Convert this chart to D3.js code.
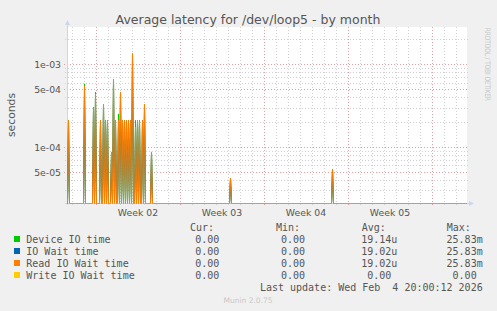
<!DOCTYPE html>
<html>
<head>
<meta charset="utf-8">
<script src="https://cdn.jsdelivr.net/npm/d3@7/dist/d3.min.js"></script>
<style>
    body { margin: 0; background: #f0f0f0; }
    text { font-family: "DejaVu Sans", sans-serif; fill: #555; }
    .mono { font-family: "DejaVu Sans Mono", monospace; font-size: 10px; white-space: pre; }
</style>
</head>
<body>
<div id="chart"></div>
<script>

// ---- data (2 hour slots, month view) ----
const graphStart = new Date(Date.UTC(2026, 0, 2, 14));
const slotHours = 2;
const slotCount = 400;

// slots where something happened, everything else is 0
const spikeSlots = [1, 17, 26, 28, 33, 36, 38, 40, 44, 46, 48, 51, 53, 55, 57, 59, 61, 63, 65, 68, 70, 72, 75, 77, 84, 163, 265];
const deviceIO  = [2.1e-4, 5.8e-4, 3.0e-4, 4.6e-4, 2.1e-4, 3.3e-4, 2.1e-4, 2.1e-4, 8.7e-5, 6.6e-4, 2.1e-4, 2.5e-4, 4.6e-4, 2.1e-4, 2.1e-4, 2.1e-4, 2.1e-4, 2.1e-4, 1.37e-3, 2.1e-4, 2.1e-4, 2.1e-4, 2.1e-4, 3.3e-4, 8.7e-5, 4.2e-5, 5.4e-5];
const ioWait    = [2.1e-4, 5.5e-4, 3.0e-4, 4.4e-4, 2.1e-4, 3.3e-4, 2.1e-4, 2.1e-4, 8.7e-5, 6.6e-4, 2.1e-4, 2.1e-4, 4.6e-4, 2.1e-4, 2.1e-4, 2.1e-4, 2.1e-4, 2.1e-4, 1.37e-3, 1.75e-4, 2.1e-4, 2.1e-4, 2.1e-4, 3.3e-4, 8.7e-5, 4.2e-5, 5.4e-5];
const readWait  = [2.1e-4, 5.5e-4, 3.0e-4, 4.4e-4, 2.1e-4, 3.3e-4, 2.1e-4, 2.1e-4, 8.7e-5, 6.6e-4, 2.1e-4, 2.1e-4, 4.6e-4, 2.1e-4, 2.1e-4, 2.1e-4, 2.1e-4, 2.1e-4, 1.37e-3, 1.75e-4, 2.1e-4, 2.1e-4, 2.1e-4, 3.3e-4, 8.7e-5, 4.2e-5, 5.4e-5];
const writeWait = [0, 0, 0, 0, 0, 0, 0, 0, 0, 0, 0, 0, 0, 0, 0, 0, 0, 0, 0, 0, 0, 0, 0, 0, 0, 0, 0];

const yTicks = [1e-3, 5e-4, 1e-4, 5e-5];
const yTickLabels = ["1e-03", "5e-04", "1e-04", "5e-05"];
const weekStarts = ["2026-01-05", "2026-01-12", "2026-01-19", "2026-01-26", "2026-02-02"];
const weekLabels = ["Week 02", "Week 03", "Week 04", "Week 05"];

const seriesNames  = ["Device IO time", "IO Wait time", "Read IO Wait time", "Write IO Wait time"];
const seriesColors = ["#00cc00", "#0066b3", "#ff8000", "#ffcc00"];
const curValues = ["0.00", "0.00", "0.00", "0.00"];
const minValues = ["0.00", "0.00", "0.00", "0.00"];
const avgValues = ["19.14u", "19.02u", "19.02u", "0.00"];
const maxValues = ["25.83m", "25.83m", "25.83m", "0.00"];

// ---- setup ----
const W = 497, H = 311;
const plot = {left: 67, right: 467, top: 27, bottom: 203};

const svg = d3.select("#chart").append("svg")
    .attr("width", W)
    .attr("height", H);

svg.append("rect").attr("width", W).attr("height", H).attr("fill", "#f0f0f0");
svg.append("rect")
    .attr("x", plot.left).attr("y", plot.top)
    .attr("width", plot.right - plot.left).attr("height", plot.bottom - plot.top)
    .attr("fill", "#ffffff");

const graphEnd = new Date(graphStart.getTime() + slotCount * slotHours * 3600e3);
const x = d3.scaleUtc().domain([graphStart, graphEnd]).range([plot.left, plot.right]);
const y = d3.scaleLog().domain([2.1e-5, 2.83e-3]).range([plot.bottom, plot.top]).clamp(true);

const slotTime = i => new Date(graphStart.getTime() + i * slotHours * 3600e3);

// ---- grid ----
const grid = svg.append("g");
const dayLines = d3.utcDay.range(graphStart, graphEnd);
const weekDates = weekStarts.map(d => new Date(d + "T00:00:00Z"));

grid.selectAll(".vminor")
    .data(dayLines.filter(d => d.getUTCDay() !== 1))
    .join("line")
    .attr("x1", d => Math.round(x(d)) + 0.5).attr("x2", d => Math.round(x(d)) + 0.5)
    .attr("y1", plot.top).attr("y2", plot.bottom + 2)
    .attr("stroke", "#d0d0d0").attr("stroke-dasharray", "1,2");

grid.selectAll(".vmajor")
    .data(weekDates)
    .join("line")
    .attr("x1", d => Math.round(x(d)) + 0.5).attr("x2", d => Math.round(x(d)) + 0.5)
    .attr("y1", plot.top).attr("y2", plot.bottom + 2)
    .attr("stroke", "#e2a0a0").attr("stroke-dasharray", "1,2");

// minor log gridlines: 2..9 of each decade, skipping the labelled ones
const minorVals = [];
[-5, -4, -3].forEach(p => {
    for (let m = 1; m <= 9; m++) {
        const v = m * Math.pow(10, p);
        if (v > y.domain()[0] && v < y.domain()[1] && !yTicks.some(t => Math.abs(t - v) / v < 1e-6)) minorVals.push(v);
    }
});

grid.selectAll(".hminor")
    .data(minorVals)
    .join("line")
    .attr("x1", plot.left - 2).attr("x2", plot.right + 1)
    .attr("y1", d => Math.round(y(d)) + 0.5).attr("y2", d => Math.round(y(d)) + 0.5)
    .attr("stroke", "#d0d0d0").attr("stroke-dasharray", "1,2");

grid.selectAll(".hmajor")
    .data(yTicks)
    .join("line")
    .attr("x1", plot.left - 3).attr("x2", plot.right + 1)
    .attr("y1", d => Math.round(y(d)) + 0.5).attr("y2", d => Math.round(y(d)) + 0.5)
    .attr("stroke", "#e2a0a0").attr("stroke-dasharray", "1,2");

// ---- axis labels ----
svg.selectAll(".ylab")
    .data(yTicks)
    .join("text")
    .attr("x", 61)
    .attr("y", d => Math.round(y(d)) + 3.5)
    .attr("text-anchor", "end")
    .attr("font-size", "9.3px")
    .text((d, i) => yTickLabels[i]);

svg.selectAll(".xlab")
    .data(weekLabels)
    .join("text")
    .attr("x", (d, i) => x(new Date(weekDates[i].getTime() + 3.5 * 86400e3)))
    .attr("y", 215.5)
    .attr("text-anchor", "middle")
    .attr("font-size", "9.3px")
    .text(d => d);

// ---- series ----
function fullSeries(vals) {
    const lookup = new Map(spikeSlots.map((s, i) => [s, vals[i]]));
    return d3.range(slotCount).map(i => ({t: slotTime(i), v: lookup.get(i) || 0}));
}

const line = d3.line()
    .x(d => Math.round(x(d.t)) + 0.5)
    .y(d => d.v > 0 ? y(d.v) : plot.bottom + 0.5);

// axes lines
svg.append("line")
    .attr("x1", plot.left + 0.5).attr("x2", plot.left + 0.5)
    .attr("y1", plot.top - 3).attr("y2", plot.bottom + 2)
    .attr("stroke", "#ccd4f0");
svg.append("path")
    .attr("d", `M${plot.left - 2},${plot.top - 2} L${plot.left + 0.5},${plot.top - 7} L${plot.left + 3},${plot.top - 2} Z`)
    .attr("fill", "#ccd4f0");
svg.append("line")
    .attr("x1", plot.left - 2).attr("x2", plot.right + 3)
    .attr("y1", plot.bottom + 0.5).attr("y2", plot.bottom + 0.5)
    .attr("stroke", "#ccd4f0");
svg.append("path")
    .attr("d", `M${plot.right + 2},${plot.bottom - 2} L${plot.right + 7},${plot.bottom + 0.5} L${plot.right + 2},${plot.bottom + 3} Z`)
    .attr("fill", "#ccd4f0");

[deviceIO, ioWait, readWait, writeWait].forEach((vals, k) => {
    svg.append("path")
        .datum(fullSeries(vals))
        .attr("fill", "none")
        .attr("stroke", seriesColors[k])
        .attr("stroke-width", 1)
        .attr("stroke-opacity", k === 3 ? 0.5 : 1)
        .attr("d", line);
});

// ---- titles ----
svg.append("text")
    .attr("x", 248).attr("y", 23.5)
    .attr("text-anchor", "middle")
    .attr("font-size", "12.5px")
    .text("Average latency for /dev/loop5 - by month");

svg.append("text")
    .attr("transform", "translate(15,115) rotate(-90)")
    .attr("text-anchor", "middle")
    .attr("font-size", "10.8px")
    .text("seconds");

svg.append("text")
    .attr("transform", "translate(485,28) rotate(90)")
    .attr("font-size", "7.5px")
    .attr("textLength", 73)
    .attr("lengthAdjust", "spacingAndGlyphs")
    .style("fill", "#c8c8c8")
    .text("RRDTOOL / TOBI OETIKER");

// ---- legend ----
const rowY = [243, 255, 267, 279];
const charW = 6.02;

svg.selectAll(".hdr")
    .data(["Cur:", "Min:", "Avg:", "Max:"])
    .join("text")
    .attr("class", "mono")
    .attr("x", (d, i) => [190, 276, 361.7, 446.7][i])
    .attr("y", 230.5)
    .text(d => d);

seriesNames.forEach((name, i) => {
    svg.append("rect")
        .attr("x", 14).attr("y", rowY[i] - 7)
        .attr("width", 6).attr("height", 6)
        .attr("fill", seriesColors[i]);
    svg.append("text")
        .attr("class", "mono")
        .attr("x", 26.3).attr("y", rowY[i])
        .text(name);
    const cols = [curValues[i], minValues[i], avgValues[i], maxValues[i]];
    const ends = [225.3, 311, 397.3, 482.7];
    cols.forEach((v, j) => {
        const unit = /[a-zA-Z]$/.test(v);
        svg.append("text")
            .attr("class", "mono")
            .attr("x", ends[j] - (unit ? 0 : charW))
            .attr("y", rowY[i])
            .attr("text-anchor", "end")
            .text(v);
    });
});

svg.append("text")
    .attr("class", "mono")
    .attr("x", 482.7).attr("y", 291)
    .attr("text-anchor", "end")
    .text("Last update: Wed Feb  4 20:00:12 2026");

svg.append("text")
    .attr("x", 248).attr("y", 303)
    .attr("text-anchor", "middle")
    .attr("font-size", "7.5px")
    .style("fill", "#c8c8c8")
    .text("Munin 2.0.75");

</script>
</body>
</html>
